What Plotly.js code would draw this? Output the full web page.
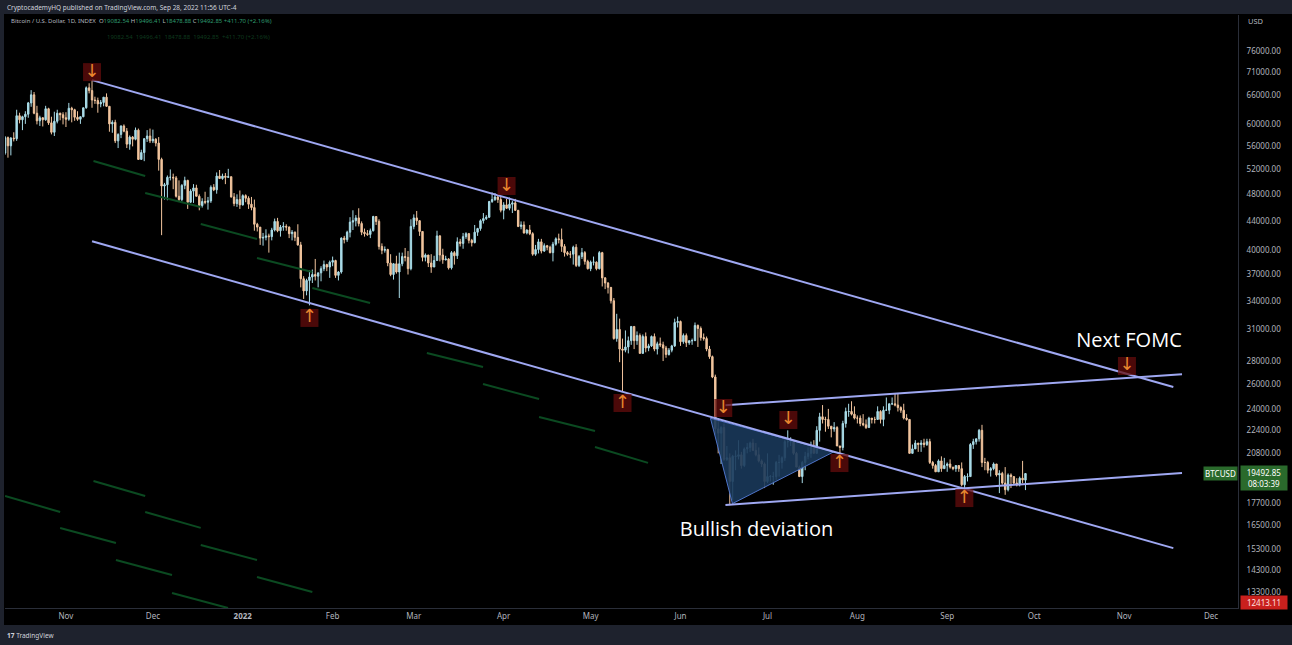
<!DOCTYPE html>
<html>
<head>
<meta charset="utf-8">
<script src="https://cdn.plot.ly/plotly-3.0.1.min.js"></script>
<style>
  html, body { margin: 0; padding: 0; background: #1e222d; }
  #chart { width: 1292px; height: 645px; }
</style>
</head>
<body>
<div id="chart"></div>
<script>
// ---------- DATA: daily BTC/USD candles [open, high, low, close] ----------
const firstDay = '2021-10-11';
const oct2021 = [
 [54700,57800,54400,57500],[57500,57700,53900,56000],[56000,57600,54300,57400],[57400,58500,56800,57300],
 [57300,62900,56900,61700],[61700,62300,60200,60900],[60900,61700,58900,61500],[61500,62600,60100,62000],
 [62000,64500,61300,64300],[64300,67000,63500,66000],[66000,66600,62000,62200],[62200,63700,60000,60700],
 [60700,61700,59700,61300],[61300,61400,59600,60900],[60900,63700,60700,63100],[63100,63300,59900,60300],
 [60300,61500,58100,58500],[58500,62500,57800,60600],[60600,62900,60200,62200],[62200,62300,60800,61900],
 [61900,62400,60000,61300]
];
const nov2021 = [
 [61300,62400,59500,61000],[61000,64300,60700,63200],[63200,63500,60400,62900],[62900,63100,60700,61400],
 [61400,62600,60700,61000],[61000,61500,60100,61500],[61500,63300,61400,63300],[63300,67800,63100,67500],
 [67500,68500,66300,66900],[66900,69200,63300,64900],[64900,65600,64100,64800],[64800,65400,62300,64100],
 [64100,64900,63400,64400],[64400,65500,63600,65500],[65500,66300,63500,63600],[63600,63600,58600,60100],
 [60100,60800,58400,60400],[60400,60900,56500,56900],[56900,58300,55600,58100],[58100,59800,57400,59700],
 [59700,60000,58500,58700],[58700,59300,55600,56300],[56300,57900,55300,57600],[57600,57800,55900,57200],
 [57200,59400,57000,58900],[58900,59200,53500,53600],[53600,55300,53600,54800],[54800,57400,53300,57300],
 [57300,58900,56700,57800],[57800,59200,56500,56900]
];
const dec2021 = [
 [56900,59000,56500,57200],[57200,57400,55900,56500],[56500,57600,51700,53600],[53600,53900,42000,49200],
 [49200,49700,47100,49400],[49400,50900,47000,50600],[50600,51900,50100,50600],[50600,51200,48700,50500],
 [50500,50800,47400,47600],[47600,50100,46900,47100],[47100,49500,46800,49300],[49300,50700,48700,50100],
 [50100,50200,45700,46700],[46700,48700,46600,48400],[48400,49500,46600,48900],[48900,49400,47600,47600],
 [47600,47900,45500,46200],[46200,47300,45900,46800],[46800,48300,46400,46700],[46700,47500,45600,46900],
 [46900,49300,46600,49000],[49000,49500,48400,48600],[48600,51400,48000,50800],[50800,51800,50400,50400],
 [50400,51200,50200,50800],[50800,51300,49500,50600],[50600,52000,50500,50700],[50700,50700,47400,47500],
 [47500,48100,46100,46500],[46500,47900,46000,47100],[47100,48500,45700,46300]
];
const jan2022 = [
 [46300,47900,46200,47700],[47700,47900,46700,47300],[47300,47600,45700,46400],[46400,47500,45500,45900],
 [45900,47100,42600,43500],[43500,43700,42500,43100],[43100,43100,40700,41600],[41600,42300,40600,41700],
 [41700,42800,41300,41900],[41900,42200,39700,41800],[41800,43000,41300,42700],[42700,44300,42500,43900],
 [43900,44400,42400,42600],[42600,43400,41800,43100],[43100,43800,42600,43200],[43200,43500,42600,43100],
 [43100,43200,41600,42200],[42200,42700,41300,42400],[42400,42500,41200,41700],[41700,43500,40600,40700],
 [40700,41100,35500,36500],[36500,36800,34200,35100],[35100,36500,34600,36300],[36300,37500,33500,36700],
 [36700,37600,36000,37000],[37000,38900,36300,36800],[36800,37200,35500,37200],[37200,38000,36200,37700],
 [37700,38700,37400,38200],[38200,38300,37400,37900],[37900,38700,36600,38500]
];
const feb2022 = [
 [38500,39200,38000,38700],[38700,38800,36600,36900],[36900,37400,36300,37300],[37300,41700,37100,41600],
 [41600,41900,40900,41400],[41400,42600,41100,42400],[42400,44500,41700,43800],[43800,45500,42700,44000],
 [44000,44800,43200,44400],[44400,45800,43200,43600],[43600,43900,42000,42400],[42400,42900,41800,42200],
 [42200,42700,41900,42100],[42100,42900,41600,42600],[42600,44700,42500,44600],[44600,44600,43400,43900],
 [43900,44200,40100,40500],[40500,40900,39500,40000],[40000,40500,39700,40100],[40100,40200,38000,38400],
 [38400,39500,36800,37000],[37000,38400,36400,38300],[38300,39300,37100,37300],[37300,39700,34300,38300],
 [38300,39700,38000,39200],[39200,40300,38600,39100],[39100,39900,37000,37700],[37700,44200,37500,43200]
];
const mar2022 = [
 [43200,44900,42800,44400],[44400,45400,43400,44000],[44000,44100,41900,42500],[42500,42500,38600,39100],
 [39100,39600,38600,39400],[39400,39400,37900,38400],[38400,39500,37200,37900],[37900,39300,37900,38700],
 [38700,42600,38700,41900],[41900,42000,38600,39400],[39400,40200,38300,38800],[38800,39300,38700,38900],
 [38900,39000,37600,37800],[37800,39900,37600,39700],[39700,39900,38200,39300],[39300,41700,38900,41100],
 [41100,41500,40500,40900],[40900,42300,40200,41800],[41800,42400,41500,42200],[42200,42300,40900,41300],
 [41300,41500,40500,41000],[41000,43400,40900,42400],[42400,43000,41900,42900],[42900,44200,42600,44000],
 [44000,45100,43600,44300],[44300,44800,44100,44500],[44500,46900,44400,46800],[46800,48200,46600,47100],
 [47100,48100,46900,47500],[47500,47700,46600,47100],[47100,47600,45200,45500]
];
const apr2022 = [
 [45500,46700,44200,46300],[46300,47200,45700,45800],[45800,47400,45500,46400],[46400,46900,45100,46600],
 [46600,47200,45400,45500],[45500,45500,43100,43200],[43200,43900,42800,43400],[43400,43900,42200,42300],
 [42300,42800,42100,42700],[42700,43400,42000,42200],[42200,42400,39300,39500],[39500,40700,39300,40100],
 [40100,41500,39600,41100],[41100,41500,39600,39900],[39900,40900,39800,40600],[40600,40700,40000,40400],
 [40400,40600,39600,39700],[39700,41100,38600,40800],[40800,41700,40600,41500],[41500,42200,40900,41400],
 [41400,42900,39800,40500],[40500,40800,39200,39700],[39700,39900,39300,39500],[39500,39900,39000,39500],
 [39500,40600,38200,40400],[40400,40800,37900,38100],[38100,39400,37900,39200],[39200,40300,38900,39700],
 [39700,39900,38200,38600],[38600,38800,37600,37700]
];
const may2022 = [
 [37700,38700,37400,38500],[38500,39200,38100,38500],[38500,38600,37500,37700],[37700,39900,37600,39700],
 [39700,39800,35600,36600],[36600,36700,35300,36000],[36000,36100,34800,35500],[35500,35500,33700,34000],
 [34000,34300,30000,30100],[30100,32600,29800,31000],[31000,32100,27900,29100],[29100,30100,25400,29000],
 [29000,30900,28800,29300],[29300,30300,28700,29900],[29900,31300,29500,31300],[31300,31300,29100,29900],
 [29900,30800,29500,30400],[30400,30600,28700,28700],[28700,30500,28700,30300],[30300,30700,28800,29200],
 [29200,29600,28900,29400],[29400,30400,29300,30300],[30300,30600,28900,29100],[29100,29800,28600,29600],
 [29600,30200,29300,29500],[29500,29800,28000,29200],[29200,29400,28300,28600],[28600,29200,28500,29000],
 [29000,29500,28800,29400],[29400,32100,29300,31700],[31700,32300,31200,31800]
];
const jun2022 = [
 [31800,31900,29400,29800],[29800,30600,29600,30400],[30400,30600,29300,29700],[29700,29900,29500,29900],
 [29900,30100,29500,29900],[29900,31700,29900,31400],[31400,31500,29300,31100],[31100,31300,29900,30200],
 [30200,30600,29900,30100],[30100,30300,28900,29100],[29100,29400,28200,28400],[28400,28500,26500,26600],
 [26600,26800,22100,22500],[22500,23300,20800,22200],[22200,22700,20100,22600],[22600,22900,20300,20400],
 [20400,21300,20300,20500],[20500,20800,17600,19000],[19000,20700,17900,20600],[20600,21000,19700,20600],
 [20600,21700,20400,20700],[20700,20900,19800,20000],[20000,21200,19900,21100],[21100,21500,20800,21200],
 [21200,21600,20900,21500],[21500,21800,21000,21000],[21000,21500,20600,20700],[20700,21200,20200,20300],
 [20300,20400,19900,20100],[20100,20200,18600,19000]
];
const jul2022 = [
 [19000,20800,18900,19300],[19300,19400,19000,19300],[19300,19600,18800,19300],[19300,20300,19100,20200],
 [20200,20700,19300,20200],[20200,20600,19800,20500],[20500,21800,20300,21600],[21600,22400,21200,21600],
 [21600,21900,21300,21600],[21600,21600,20700,20800],[20800,20900,19900,19900],[19900,20000,19300,19300],
 [19300,20300,18900,20200],[20200,20900,19700,20600],[20600,21200,20400,20800],[20800,21600,20500,21200],
 [21200,21700,20800,20800],[20800,22700,20800,22400],[22400,23700,21600,23400],[23400,24300,22900,23200],
 [23200,23400,22300,23200],[23200,24000,22500,22700],[22700,22700,21900,22500],[22500,23000,22300,22600],
 [22600,22700,21300,21300],[21300,21300,20700,21200],[21200,23100,21000,22900],[22900,24100,22600,23800],
 [23800,24400,23400,23800],[23800,24600,23500,23600],[23600,24200,23200,23300]
];
const aug2022 = [
 [23300,23500,22900,23300],[23300,23500,22700,22900],[22900,23600,22700,22800],[22800,23200,22500,22600],
 [22600,23400,22600,23300],[23300,23300,22900,23200],[23200,23400,22900,23200],[23200,24200,23200,23800],
 [23800,23900,22900,23200],[23200,24200,22700,23900],[23900,24900,23900,23900],[23900,24400,23600,24400],
 [24400,24900,24300,24400],[24400,25200,24200,24300],[24300,25200,23800,24100],[24100,24200,23700,23900],
 [23900,24400,23200,23300],[23300,23600,23100,23200],[23200,23200,20800,20800],[20800,21400,20800,21100],
 [21100,21700,21100,21500],[21500,21500,20900,21400],[21400,21700,20900,21500],[21500,21800,21200,21400],
 [21400,21800,21300,21600],[21600,21800,20100,20200],[20200,20300,19800,20000],[20000,20100,19600,19600],
 [19600,20400,19600,20300],[20300,20600,19600,19800],[19800,20500,19800,20000]
];
const sep2022 = [
 [20000,20200,19600,20100],[20100,20400,19800,19900],[19900,19900,19700,19800],[19800,20000,19600,20000],
 [20000,20000,19600,19800],[19800,20200,18700,18800],[18800,19400,18500,19300],[19300,19500,19000,19300],
 [19300,21500,19300,21400],[21400,21800,21100,21600],[21600,21800,21400,21800],[21800,22500,21600,22400],
 [22400,22800,19900,20200],[20200,20500,19700,20200],[20200,20300,19500,19700],[19700,19900,19300,19800],
 [19800,20200,19700,20100],[20100,20100,19300,19400],[19400,19700,18300,19500],[19500,19600,18800,18900],
 [18900,19900,18200,18500],[18500,19500,18400,19400],[19400,19500,18600,19300],[19300,19300,18800,18900],
 [18900,19200,18700,18800],[18800,19300,18700,19200],[19200,20300,18900,19100],[19082.54,19496.41,18478.88,19492.85]
];

// Trendlines drawn on the chart (endpoints: date, price)
const upperChannelDates = ['2021-11-10', '2022-11-18'];
const upperChannelPrices = [69200, 25750];
const lowerChannelDates = ['2021-11-10', '2022-11-18'];
const lowerChannelPrices = [41180, 15330];
const risingTopDates = ['2022-06-16 12:00', '2022-11-21'];
const risingTopPrices = [24290, 26840];
const risingBottomDates = ['2022-06-16 12:00', '2022-11-21'];
const risingBottomPrices = [17610, 19520];
const triangleDates = ['2022-06-11 08:00', '2022-06-18 22:00', '2022-07-23 20:00', '2022-06-11 08:00'];
const trianglePrices = [23290, 17690, 20900, 23290];

// Faint indicator ghost segments (null separates segments)
const ghostDates = [
 '2021-11-10 12:00','2021-11-28 08:00',null,'2021-11-28 08:00','2021-12-17 12:00',null,
 '2021-12-17 12:00','2022-01-05 22:00',null,'2022-01-05 22:00','2022-01-25',null,
 '2022-01-25','2022-02-13 22:00',null,'2022-03-05 12:00','2022-03-24 21:00',null,
 '2022-03-24 21:00','2022-04-13 05:00',null,'2022-04-13 05:00','2022-05-02 12:00',null,
 '2022-05-02 12:00','2022-05-20 19:00',null,
 '2021-11-10 12:00','2021-11-28 08:00',null,'2021-10-11','2021-10-30',null,
 '2021-11-28 08:00','2021-12-17 12:00',null,'2021-10-30','2021-11-18 06:00',null,
 '2021-12-17 12:00','2022-01-05 22:00',null,'2021-11-18 06:00','2021-12-07 14:00',null,
 '2022-01-05 22:00','2022-01-25',null,'2021-12-07 14:00','2021-12-26 22:00'
];
const ghostPrices = [
 53330,50810,null,48100,45980,null,43540,41480,null,39020,37300,null,35420,33750,null,
 28730,27470,null,26000,24780,null,23380,22350,null,21230,20170,null,
 19030,18130,null,18130,17220,null,17220,16360,null,16360,15580,null,
 15480,14750,null,14750,14060,null,13970,13310,null,13270,12640
];

// Signal arrows
const arrowDates = ['2021-11-10','2022-01-24','2022-04-02','2022-05-12','2022-06-15 18:00',
                    '2022-07-08 05:00','2022-07-25 20:00','2022-09-06 22:00','2022-11-02'];
const arrowPrices = [71000,32170,49200,24460,24070,23160,20160,18010,27560];
const arrowDirs = ['down','up','down','up','down','down','up','up','down'];

// Text notes
const noteTexts = ['Next FOMC', 'Bullish deviation'];
const noteDates = ['2022-11-02 17:00', '2022-06-27 05:00'];
const notePrices = [29800, 16200];

// Axis ticks
const xTickDates = ['2021-11-01','2021-12-01','2022-01-01','2022-02-01','2022-03-01','2022-04-01','2022-05-01',
                    '2022-06-01','2022-07-01','2022-08-01','2022-09-01','2022-10-01','2022-11-01','2022-12-01'];
const xTickLabels = ['Nov','Dec','<b>2022</b>','Feb','Mar','Apr','May','Jun','Jul','Aug','Sep','Oct','Nov','Dec'];
const yTickValues = [13300,14300,15300,16500,17700,20800,22400,24000,26000,28000,31000,34000,37000,
                     40000,44000,48000,52000,56000,60000,66000,71000,76000];
const lastClose = 19492.85;
const lastCountdown = '08:03:39';
const lowLabelValue = 12413.11;

// ---------- BUILD ----------
const rows = [].concat(oct2021, nov2021, dec2021, jan2022, feb2022, mar2022, apr2022,
                       may2022, jun2022, jul2022, aug2022, sep2022);
const dates = [];
{
  const d0 = new Date(firstDay + 'T00:00:00Z');
  for (let i = 0; i < rows.length; i++) {
    const d = new Date(d0.getTime() + i * 86400000);
    dates.push(d.toISOString().slice(0, 10));
  }
}
const opens = rows.map(r => r[0]), highs = rows.map(r => r[1]),
      lows = rows.map(r => r[2]), closes = rows.map(r => r[3]);

const lineColor = '#9fa8f2';
const traces = [
  { type: 'scatter', mode: 'lines', x: ghostDates, y: ghostPrices, connectgaps: false,
    line: { color: '#0b4a21', width: 2 }, hoverinfo: 'skip', showlegend: false },
  { type: 'scatter', mode: 'lines', x: triangleDates, y: trianglePrices, fill: 'toself',
    fillcolor: 'rgba(26,56,90,0.9)', line: { color: '#4f74c8', width: 1 }, hoverinfo: 'skip', showlegend: false },
  { type: 'candlestick', x: dates, open: opens, high: highs, low: lows, close: closes,
    increasing: { line: { color: '#a9dce8', width: 1 }, fillcolor: '#a9dce8' },
    decreasing: { line: { color: '#f2c59e', width: 1 }, fillcolor: '#f2c59e' },
    whiskerwidth: 0, hoverinfo: 'skip', showlegend: false },
  { type: 'scatter', mode: 'lines', x: upperChannelDates, y: upperChannelPrices,
    line: { color: lineColor, width: 2 }, hoverinfo: 'skip', showlegend: false },
  { type: 'scatter', mode: 'lines', x: lowerChannelDates, y: lowerChannelPrices,
    line: { color: lineColor, width: 2 }, hoverinfo: 'skip', showlegend: false },
  { type: 'scatter', mode: 'lines', x: risingTopDates, y: risingTopPrices,
    line: { color: lineColor, width: 2 }, hoverinfo: 'skip', showlegend: false },
  { type: 'scatter', mode: 'lines', x: risingBottomDates, y: risingBottomPrices,
    line: { color: lineColor, width: 2 }, hoverinfo: 'skip', showlegend: false },
  { type: 'scatter', mode: 'markers+text', x: arrowDates, y: arrowPrices,
    marker: { symbol: 'square', size: 18, color: 'rgba(100,12,12,0.75)', line: { width: 0 } },
    text: arrowDirs.map(d => d === 'down' ? '↓' : '↑'), textposition: 'middle center',
    textfont: { family: 'DejaVu Sans', size: 18, color: '#e8862e' },
    hoverinfo: 'skip', showlegend: false },
  { type: 'scatter', mode: 'text', x: noteDates, y: notePrices, text: noteTexts,
    textposition: 'middle center', textfont: { family: 'Open Sans', size: 20, color: '#ffffff' },
    hoverinfo: 'skip', showlegend: false }
];

const W = 1233, H = 593; // plot area size
const px = v => (v - 5) / W;
const py = v => (608 - v) / H;
const gray = '#b2b5be';

const layout = {
  width: 1292, height: 645,
  margin: { l: 5, r: 54, t: 15, b: 37, pad: 0 },
  paper_bgcolor: '#1e222d',
  plot_bgcolor: '#000000',
  showlegend: false,
  font: { family: 'Noto Sans', color: gray, size: 8 },
  xaxis: {
    type: 'date', range: ['2021-10-10 23:30', '2022-12-10 07:30'],
    rangeslider: { visible: false },
    tickvals: xTickDates, ticktext: xTickLabels,
    tickfont: { size: 8, color: gray }, ticks: '', showgrid: false, zeroline: false,
    showline: true, linecolor: '#2a2e39', linewidth: 1, fixedrange: true
  },
  yaxis: {
    type: 'log', side: 'right',
    range: [4.10176, 4.93116],
    tickvals: yTickValues, ticktext: yTickValues.map(v => v.toFixed(2)),
    tickfont: { size: 8, color: gray }, ticks: '', ticklabelstandoff: 6,
    showgrid: false, zeroline: false,
    showline: true, linecolor: '#2a2e39', linewidth: 1, fixedrange: true
  },
  shapes: [
    { type: 'rect', xref: 'paper', yref: 'paper', x0: px(4), x1: px(1292), y0: py(625), y1: py(14),
      fillcolor: '#000000', line: { width: 0 }, layer: 'below' }
  ],
  annotations: [
    { xref: 'paper', yref: 'paper', x: px(5), y: py(7), xanchor: 'left', yanchor: 'middle', showarrow: false,
      text: 'CryptocademyHQ published on TradingView.com, Sep 28, 2022 11:56 UTC-4',
      font: { size: 6.5, color: '#d1d4dc' } },
    { xref: 'paper', yref: 'paper', x: px(9), y: py(21), xanchor: 'left', yanchor: 'middle', showarrow: false,
      text: 'Bitcoin / U.S. Dollar, 1D, INDEX  O<span style="color:#2e9a6e">19082.54</span> H<span style="color:#2e9a6e">19496.41</span> L<span style="color:#2e9a6e">18478.88</span> C<span style="color:#2e9a6e">19492.85</span> <span style="color:#2e9a6e">+411.70 (+2.16%)</span>',
      font: { size: 6, color: '#b2b5be' } },
    { xref: 'paper', yref: 'paper', x: px(105), y: py(37), xanchor: 'left', yanchor: 'middle', showarrow: false,
      text: '19082.54  19496.41  18478.88  19492.85  +411.70 (+2.16%)',
      font: { size: 6, color: '#0e3a1e' } },
    { xref: 'paper', yref: 'paper', x: px(1246), y: py(21), xanchor: 'left', yanchor: 'middle', showarrow: false,
      text: 'USD', font: { size: 7.5, color: gray } },
    { xref: 'paper', yref: 'paper', x: px(5), y: py(635), xanchor: 'left', yanchor: 'middle', showarrow: false,
      text: '<b>17</b> TradingView', font: { size: 6.5, color: '#d1d4dc' } },
    { xref: 'paper', yref: 'y', x: px(1238), y: Math.log10(lastClose), xanchor: 'right', yanchor: 'middle',
      showarrow: false, text: 'BTCUSD', bgcolor: '#2a6a2c', width: 31, height: 11, borderpad: 1,
      font: { size: 8, color: '#ffffff' } },
    { xref: 'paper', yref: 'y', x: px(1240), y: Math.log10(lastClose), xanchor: 'left', yanchor: 'middle',
      yshift: -4.5, showarrow: false, text: lastClose.toFixed(2) + '<br>' + lastCountdown,
      bgcolor: '#2a6a2c', width: 44, height: 22, borderpad: 1, align: 'center',
      font: { size: 8, color: '#ffffff' } },
    { xref: 'paper', yref: 'paper', x: px(1240), y: py(602), xanchor: 'left', yanchor: 'middle',
      showarrow: false, text: lowLabelValue.toFixed(2), bgcolor: '#c9201d', width: 44, height: 11, borderpad: 1,
      font: { size: 8, color: '#ffe0e0' } }
  ]
};

Plotly.newPlot('chart', traces, layout, { staticPlot: true, displayModeBar: false });
</script>
</body>
</html>
